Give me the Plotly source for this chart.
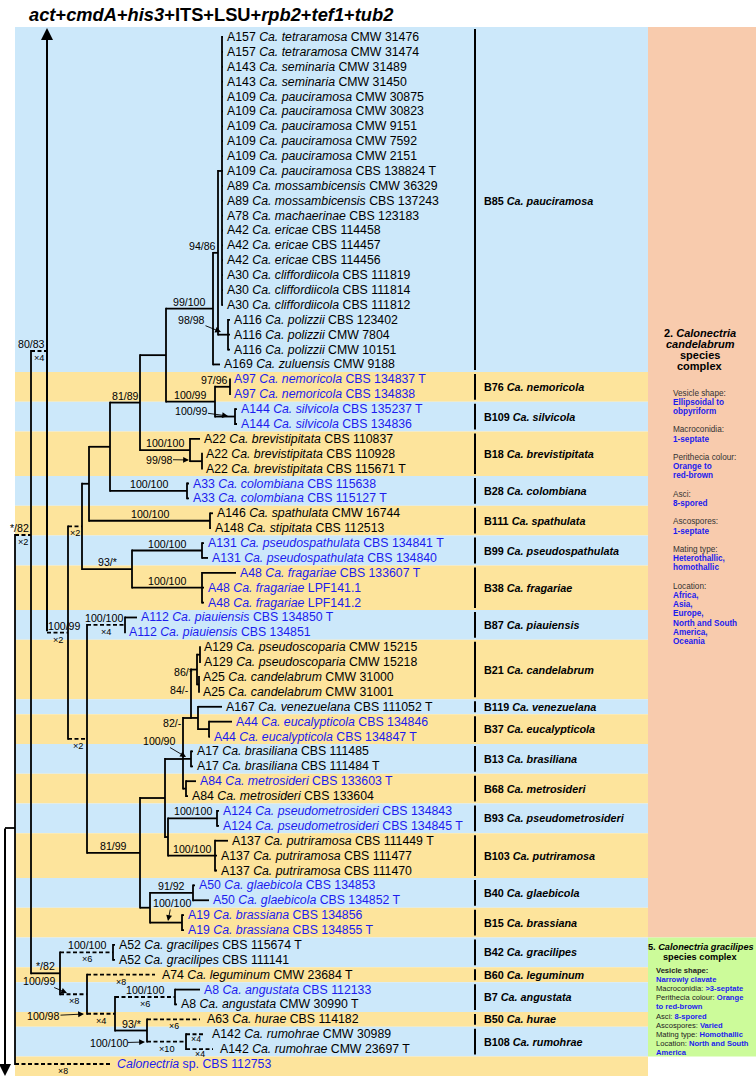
import plotly.graph_objects as go

# ======================= DATA =======================
title_html = "<b><i>act</i>+<i>cmdA</i>+<i>his3</i>+ITS+LSU+<i>rpb2</i>+<i>tef1</i>+<i>tub2</i></b>"

tip_code = ["A157", "A157", "A143", "A143", "A109", "A109", "A109", "A109", "A109", "A109",
            "A89", "A89", "A78", "A42", "A42", "A42", "A30", "A30", "A30",
            "A116", "A116", "A116", "A169",
            "A97", "A97", "A144", "A144", "A22", "A22", "A22", "A33", "A33", "A146", "A148",
            "A131", "A131", "A48", "A48", "A48", "A112", "A112",
            "A129", "A129", "A25", "A25", "A167", "A44", "A44", "A17", "A17", "A84", "A84",
            "A124", "A124", "A137", "A137", "A137", "A50", "A50", "A19", "A19",
            "A52", "A52", "A74", "A8", "A8", "A63", "A142", "A142", ""]
tip_taxon = ["Ca. tetraramosa", "Ca. tetraramosa", "Ca. seminaria", "Ca. seminaria",
             "Ca. pauciramosa", "Ca. pauciramosa", "Ca. pauciramosa", "Ca. pauciramosa",
             "Ca. pauciramosa", "Ca. pauciramosa", "Ca. mossambicensis", "Ca. mossambicensis",
             "Ca. machaerinae", "Ca. ericae", "Ca. ericae", "Ca. ericae",
             "Ca. cliffordiicola", "Ca. cliffordiicola", "Ca. cliffordiicola",
             "Ca. polizzii", "Ca. polizzii", "Ca. polizzii", "Ca. zuluensis",
             "Ca. nemoricola", "Ca. nemoricola", "Ca. silvicola", "Ca. silvicola",
             "Ca. brevistipitata", "Ca. brevistipitata", "Ca. brevistipitata",
             "Ca. colombiana", "Ca. colombiana", "Ca. spathulata", "Ca. stipitata",
             "Ca. pseudospathulata", "Ca. pseudospathulata",
             "Ca. fragariae", "Ca. fragariae", "Ca. fragariae",
             "Ca. piauiensis", "Ca. piauiensis",
             "Ca. pseudoscoparia", "Ca. pseudoscoparia", "Ca. candelabrum", "Ca. candelabrum",
             "Ca. venezuelana", "Ca. eucalypticola", "Ca. eucalypticola",
             "Ca. brasiliana", "Ca. brasiliana", "Ca. metrosideri", "Ca. metrosideri",
             "Ca. pseudometrosideri", "Ca. pseudometrosideri",
             "Ca. putriramosa", "Ca. putriramosa", "Ca. putriramosa",
             "Ca. glaebicola", "Ca. glaebicola", "Ca. brassiana", "Ca. brassiana",
             "Ca. gracilipes", "Ca. gracilipes", "Ca. leguminum",
             "Ca. angustata", "Ca. angustata", "Ca. hurae", "Ca. rumohrae", "Ca. rumohrae",
             "Calonectria"]
tip_strain = ["CMW 31476", "CMW 31474", "CMW 31489", "CMW 31450", "CMW 30875", "CMW 30823",
              "CMW 9151", "CMW 7592", "CMW 2151", "CBS 138824 T", "CMW 36329", "CBS 137243",
              "CBS 123183", "CBS 114458", "CBS 114457", "CBS 114456", "CBS 111819", "CBS 111814",
              "CBS 111812", "CBS 123402", "CMW 7804", "CMW 10151", "CMW 9188",
              "CBS 134837 T", "CBS 134838", "CBS 135237 T", "CBS 134836",
              "CBS 110837", "CBS 110928", "CBS 115671 T", "CBS 115638", "CBS 115127 T",
              "CMW 16744", "CBS 112513", "CBS 134841 T", "CBS 134840",
              "CBS 133607 T", "LPF141.1", "LPF141.2", "CBS 134850 T", "CBS 134851",
              "CMW 15215", "CMW 15218", "CMW 31000", "CMW 31001", "CBS 111052 T",
              "CBS 134846", "CBS 134847 T", "CBS 111485", "CBS 111484 T",
              "CBS 133603 T", "CBS 133604", "CBS 134843", "CBS 134845 T",
              "CBS 111449 T", "CBS 111477", "CBS 111470", "CBS 134853", "CBS 134852 T",
              "CBS 134856", "CBS 134855 T", "CBS 115674 T", "CBS 111141", "CMW 23684 T",
              "CBS 112133", "CMW 30990 T", "CBS 114182", "CMW 30989", "CMW 23697 T",
              "sp. CBS 112753"]
tip_blue = [0, 0, 0, 0, 0, 0, 0, 0, 0, 0, 0, 0, 0, 0, 0, 0, 0, 0, 0, 0, 0, 0, 0,
            1, 1, 1, 1, 0, 0, 0, 1, 1, 0, 0, 1, 1, 1, 1, 1, 1, 1,
            0, 0, 0, 0, 0, 1, 1, 0, 0, 1, 0, 1, 1, 0, 0, 0, 1, 1, 1, 1,
            0, 0, 0, 1, 0, 0, 0, 0, 1]
tip_parent = ["n222"] * 19 + ["n228", "n228", "n228", "n213", "n230", "n230", "n235", "n235",
              "n190", "n202a", "n202a", "n187", "n187", "n210", "n210", "n202b", "n202b",
              "n202c", "n202c", "n202c", "n125", "n125", "n200", "n200", "n199", "n199",
              "n198", "n209", "n209", "n191b", "n191b", "n186", "n186", "n217", "n217",
              "n215b", "n215b", "n215b", "n193", "n193", "n182", "n182", "n113", "n113",
              "n87g", "n175", "n175", "n147", "n187g", "n187g", "root"]
# depth (x position) reached by each terminal branch
tip_x = [223, 223, 223, 223, 223, 223, 223, 223, 223, 223, 223, 223, 223, 223, 223, 223, 223, 223, 223,
         230, 230, 230, 220, 230, 230, 237, 237, 200, 202, 202, 189, 189, 213, 211, 204, 208,
         236, 204, 204, 137, 125, 200, 200, 199, 199, 222, 232, 210, 193, 193, 196, 188,
         219, 219, 228, 217, 217, 195, 209, 184, 184, 115, 115, 155, 200, 177, 200, 205, 213, 110]
tip_mult = [""] * 63 + ["×8", "", "", "×6", "×4", "×4", "×8"]

node_id = ["root", "n31", "n47", "n68", "n82", "n89", "n110", "n140a", "n166", "n213", "n218",
           "n222", "n228", "n215", "n230", "n235", "n190", "n202a", "n187", "n210", "n132",
           "n202b", "n202c", "n87", "n125", "n140b", "n165", "n183", "n191a", "n197", "n200",
           "n199", "n198", "n209", "n191b", "n186", "n168", "n217", "n215b", "n150", "n193",
           "n182", "n60", "n113", "n87g", "n115", "n175", "n147", "n187g"]
node_parent = [None, "root", "n31", "n47", "n68", "n82", "n89", "n110", "n140a", "n166", "n213",
               "n218", "n218", "n166", "n215", "n215", "n140a", "n190", "n110", "n89", "n82",
               "n132", "n132", "n68", "n87", "n87", "n140b", "n165", "n183", "n191a", "n197",
               "n197", "n191a", "n198", "n183", "n183", "n165", "n168", "n168", "n140b", "n150",
               "n150", "n31", "n60", "n60", "n87g", "n115", "n115", "n147"]
node_x = [15, 31, 47, 68, 82, 89, 110, 140, 166, 213, 218,
          222, 228, 215, 230, 235, 190, 202, 187, 210, 132,
          202, 202, 87, 125, 140, 165, 183, 191, 197, 200,
          199, 198, 209, 191, 186, 168, 217, 215, 150, 193,
          182, 60, 113, 87, 115, 175, 147, 186]
node_support = ["", "*/82", "80/83", "100/99", "", "", "", "81/89", "", "99/100", "94/86",
                "", "98/98", "100/99", "97/96", "100/99", "100/100", "99/98", "100/100", "100/100", "93/*",
                "100/100", "100/100", "", "100/100", "81/99", "", "82/-", "84/-", "86/*", "",
                "", "", "", "100/90", "", "", "100/100", "100/100", "", "91/92",
                "100/100", "*/82", "100/100", "100/99", "100/98", "100/100", "93/*", "100/100"]
node_mult = ["", "×2", "×4", "×2", "×2", "", "", "", "", "", "",
             "", "", "", "", "", "", "", "", "", "",
             "", "", "×2", "×4", "", "", "", "", "", "",
             "", "", "", "", "", "", "", "", "", "",
             "", "", "×6", "×8", "×4", "×6", "", "×10"]

group_code = ["B85", "B76", "B109", "B18", "B28", "B111", "B99", "B38", "B87", "B21", "B119", "B37",
              "B13", "B68", "B93", "B103", "B40", "B15", "B42", "B60", "B7", "B50", "B108", ""]
group_species = ["pauciramosa", "nemoricola", "silvicola", "brevistipitata", "colombiana",
                 "spathulata", "pseudospathulata", "fragariae", "piauiensis", "candelabrum",
                 "venezuelana", "eucalypticola", "brasiliana", "metrosideri", "pseudometrosideri",
                 "putriramosa", "glaebicola", "brassiana", "gracilipes", "leguminum", "angustata",
                 "hurae", "rumohrae", ""]
group_first = [0, 23, 25, 27, 30, 32, 34, 36, 39, 41, 45, 46, 48, 50, 52, 54, 57, 59, 61, 63, 64, 66, 67, 69]
group_last = [22, 24, 26, 29, 31, 33, 35, 38, 40, 44, 45, 47, 49, 51, 53, 56, 58, 60, 62, 63, 65, 66, 68, 69]

cand_heading = ["2. <i>Calonectria</i>", "<i>candelabrum</i>", "species", "complex"]
cand_trait_names = ["Vesicle shape:", "Macroconidia:", "Perithecia colour:", "Asci:",
                    "Ascospores:", "Mating type:", "Location:"]
cand_trait_values = [["Ellipsoidal to", "obpyriform"], ["1-septate"], ["Orange to", "red-brown"],
                     ["8-spored"], ["1-septate"], ["Heterothallic,", "homothallic"],
                     ["Africa,", "Asia,", "Europe,", "North and South", "America,", "Oceania"]]

grac_heading = ["5. <i>Calonectria gracilipes</i>", "species complex"]
grac_line_names = ["Vesicle shape:", "", "Macroconidia: ", "Perithecia colour: ", "", "Asci: ",
                   "Ascospores: ", "Mating type: ", "Location: ", ""]
grac_line_values = ["", "Narrowly clavate", ">3-septate", "Orange", "to red-brown", "8-spored",
                    "Varied", "Homothallic", "North and South", "America"]

# ======================= LAYOUT / STYLE =======================
FONT = "Liberation Sans, Arial, Helvetica, sans-serif"
W, H = 756, 1078
ROW0, ROWH = 37.0, 14.884


def R(px):
    return (px - ROW0) / ROWH


BLUE_BAND = "#cce8fa"
ORANGE_BAND = "#fde49c"
PEACH = "#f8cbad"
GREEN = "#ccfb9a"
TXT_BLUE = "#1c1cee"
LW = 1.8
EXT = (LW / 2) / ROWH
DASH = "4px,2.5px"

node_y_override = {"root": R(828), "n31": R(535), "n47": R(351), "n183": R(759), "n191a": R(718)}
support_pos = {"n68": (64, 626), "n183": (172.5, 723), "n191a": (179, 690), "n197": (183, 672)}
support_arrow = {"n228": ((191.5, 320), (221, 332)), "n235": ((191, 411), (228, 416)),
                 "n202a": ((159, 459.5), (189, 460)), "n191b": ((159, 741), (186, 757)),
                 "n182": ((171.5, 903), (168, 921)), "n87g": ((39, 981), (67, 993)),
                 "n115": ((43.5, 1016), (84, 1014)), "n187g": ((108.5, 1043), (145, 1042))}
tip_mult_offset = {67: 4.5, 68: 5.0}   # px below branch; default 7

shapes = []
annots = []


def seg(x0, y0, x1, y1, dash=False, width=LW):
    shapes.append(dict(type="line", xref="x", yref="y", x0=x0, y0=y0, x1=x1, y1=y1,
                       line=dict(color="black", width=width, dash=DASH if dash else "solid"),
                       layer="above"))


def text(x, y, s, size, color="black", xanchor="left", yanchor="middle"):
    annots.append(dict(xref="x", yref="y", x=x, y=y, text=s, showarrow=False,
                       xanchor=xanchor, yanchor=yanchor, borderpad=0,
                       font=dict(family=FONT, size=size, color=color)))


def twidth(s, size):
    w = {"/": 0.278, "*": 0.389, "-": 0.333}
    return sum(w.get(c, 0.556) for c in s) * size


# ---- background bands & side panels ----
for g in range(len(group_code)):
    y0 = R(27) if g == 0 else group_first[g] - 0.5
    y1 = R(1076) if g == len(group_code) - 1 else group_last[g] + 0.5
    shapes.append(dict(type="rect", xref="x", yref="y", x0=15, x1=648, y0=y0, y1=y1,
                       fillcolor=BLUE_BAND if g % 2 == 0 else ORANGE_BAND,
                       line=dict(width=0), layer="below"))
shapes.append(dict(type="rect", xref="x", yref="y", x0=648, x1=756, y0=R(27), y1=60.5,
                   fillcolor=PEACH, line=dict(width=0), layer="below"))
shapes.append(dict(type="rect", xref="x", yref="y", x0=648, x1=756, y0=60.5, y1=68.5,
                   fillcolor=GREEN, line=dict(width=0), layer="below"))

# ---- tree geometry ----
kids = {n: [] for n in node_id}
for n, p in zip(node_id, node_parent):
    if p:
        kids[p].append(("n", n))
for t, p in enumerate(tip_parent):
    kids[p].append(("t", t))
X = dict(zip(node_id, node_x))
Y, SPAN = {}, {}


def place(n):
    ys = [place(c) if k == "n" else float(c) for k, c in kids[n]]
    SPAN[n] = (min(ys), max(ys))
    Y[n] = node_y_override.get(n, (min(ys) + max(ys)) / 2)
    return Y[n]


place("root")
parent_of = dict(zip(node_id, node_parent))

for i, n in enumerate(node_id):
    x = X[n]
    y0, y1 = SPAN[n]
    if n != "n47":
        seg(x, y0 - EXT, x, y1 + EXT)
    p = parent_of[n]
    if p:
        px = X[p]
        seg(px, Y[n], x, Y[n], dash=bool(node_mult[i]))
        if node_mult[i]:
            text((px + x) / 2, Y[n] + 7 / ROWH, node_mult[i], 9.2, xanchor="center")
        s = node_support[i]
        if s:
            if n in support_arrow:
                (tx, ty), (hx, hy) = support_arrow[n]
                annots.append(dict(xref="x", yref="y", axref="x", ayref="y", x=hx, y=R(hy),
                                   ax=tx, ay=R(ty), text=s, showarrow=True, arrowhead=2,
                                   arrowsize=1.3, arrowwidth=0.9, arrowcolor="black",
                                   standoff=0, borderpad=0,
                                   font=dict(family=FONT, size=10.6, color="black")))
            elif n in support_pos:
                tx, ty = support_pos[n]
                text(tx, R(ty), s, 10.6, xanchor="center")
            else:
                w = twidth(s, 10.6)
                if w + 2 <= x - px:
                    text((px + x) / 2, Y[n] - 7 / ROWH, s, 10.6, xanchor="center")
                else:
                    text(x - 1, Y[n] - 7 / ROWH, s, 10.6, xanchor="right")

# backbone arrows (tree continues outside this part)
annots.append(dict(xref="x", yref="y", axref="x", ayref="y", x=47, y=R(28), ax=47, ay=Y["n68"],
                   text="", showarrow=True, arrowhead=2, arrowsize=1.2, arrowwidth=2,
                   arrowcolor="black", standoff=0))
seg(5, Y["root"], 15, Y["root"])
annots.append(dict(xref="x", yref="y", axref="x", ayref="y", x=5, y=R(1076), ax=5, ay=Y["root"] - EXT,
                   text="", showarrow=True, arrowhead=2, arrowsize=1.2, arrowwidth=2,
                   arrowcolor="black", standoff=0))

# ---- tips ----
for t in range(len(tip_code)):
    p = tip_parent[t]
    x0, x1 = X[p], tip_x[t]
    dashed = bool(tip_mult[t])
    if x1 - x0 > 0.5:
        seg(x0, t, x1, t, dash=dashed)
    if dashed:
        off = tip_mult_offset.get(t, 7.0)
        text((x0 + x1) / 2, t + off / ROWH, tip_mult[t], 8.8, xanchor="center")
    lab = (tip_code[t] + " " if tip_code[t] else "") + "<i>" + tip_taxon[t] + "</i> " + tip_strain[t]
    text(x1 + (6 if dashed else 3), t, lab, 12.3, TXT_BLUE if tip_blue[t] else "black")

# ---- clade bars & names ----
for g in range(len(group_code)):
    if not group_code[g]:
        continue
    top = (R(27) if g == 0 else group_first[g] - 0.5) + 2 / ROWH
    bot = group_last[g] + 0.5 - 2 / ROWH
    seg(475, top, 475, bot, width=2)
    text(483, (group_first[g] + group_last[g]) / 2,
         "<b>" + group_code[g] + " <i>Ca. " + group_species[g] + "</i></b>", 10.8)

# ---- title ----
text(28, R(14), title_html, 18.3)

# ---- candelabrum complex panel ----
for k, line in enumerate(cand_heading):
    text(700, R(333 + 11 * k), "<b>" + line + "</b>", 11, xanchor="center")
yy = 393.0
for name, vals in zip(cand_trait_names, cand_trait_values):
    text(672, R(yy), name, 8.2, "#333333")
    yy += 9.2
    for v in vals:
        text(672, R(yy), "<b>" + v + "</b>", 8.2, TXT_BLUE)
        yy += 9.2
    yy += 9.2

# ---- gracilipes complex panel ----
text(701, R(947), "<b>" + grac_heading[0] + "</b>", 9.2, xanchor="center")
text(700, R(956.5), "<b>" + grac_heading[1] + "</b>", 9.2, xanchor="center")
yy = 970.0
for k, (nm, v) in enumerate(zip(grac_line_names, grac_line_values)):
    s = ""
    if nm:
        s += ("<b>" + nm + "</b>") if k == 0 else nm
    if v:
        s += "<span style='color:" + TXT_BLUE + "'><b>" + v + "</b></span>"
    text(655, R(yy), s, 7.6, "#222222")
    yy += 9.2

fig = go.Figure()
fig.add_trace(go.Scatter(x=[0], y=[0], mode="markers", marker=dict(opacity=0),
                         hoverinfo="skip", showlegend=False))
fig.update_layout(width=W, height=H, margin=dict(l=0, r=0, t=0, b=0),
                  paper_bgcolor="white", plot_bgcolor="white", showlegend=False,
                  xaxis=dict(range=[0, W], visible=False, fixedrange=True),
                  yaxis=dict(range=[R(H), R(0)], visible=False, fixedrange=True),
                  shapes=shapes, annotations=annots)
fig.write_html("out.html", config={"displayModeBar": False},
               post_script="document.body.style.margin='0px';")
